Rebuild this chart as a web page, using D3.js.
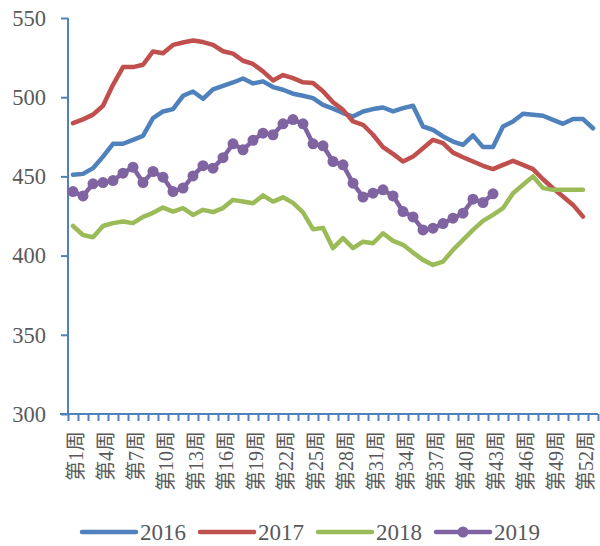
<!DOCTYPE html>
<html>
<head>
<meta charset="utf-8">
<script src="https://cdn.jsdelivr.net/npm/d3@7"></script>
<style>
  body { margin: 0; background: #fff; }
</style>
</head>
<body>
<div class="chart"></div>
<script>
// categories: weeks of the year
var weeks = ['第1周','第2周','第3周','第4周','第5周','第6周','第7周','第8周','第9周','第10周',
  '第11周','第12周','第13周','第14周','第15周','第16周','第17周','第18周','第19周','第20周',
  '第21周','第22周','第23周','第24周','第25周','第26周','第27周','第28周','第29周','第30周',
  '第31周','第32周','第33周','第34周','第35周','第36周','第37周','第38周','第39周','第40周',
  '第41周','第42周','第43周','第44周','第45周','第46周','第47周','第48周','第49周','第50周',
  '第51周','第52周','第53周'];
var weekLabels = ['第1周','第4周','第7周','第10周','第13周','第16周','第19周','第22周','第25周',
  '第28周','第31周','第34周','第37周','第40周','第43周','第46周','第49周','第52周'];
var yTicks = [300, 350, 400, 450, 500, 550];

var v2016 = [451, 451.6, 455.2, 462.5, 470.6, 470.6, 473.1, 475.6, 486.8, 491,
  492.5, 500.9, 503.6, 499, 505, 507.2, 509.3, 511.8, 508.7, 510,
  506.4, 504.7, 502.2, 500.9, 499.4, 495.2, 492.8, 490, 487.8, 491,
  492.5, 493.5, 491, 493.1, 494.6, 481.5, 479.4, 475.2, 472, 469.9,
  475.9, 468.5, 468.5, 481.5, 484.7, 489.5, 488.9, 488.3, 485.7, 483.2,
  486.2, 486.2, 480.4];
var v2017 = [483.6, 486, 489, 494.6, 507.8, 519, 519, 520.5, 528.9, 527.8,
  533, 534.5, 535.8, 534.8, 533, 529, 527.5, 523, 521, 516.3,
  510.6, 514, 512, 509.4, 509, 503.7, 496.8, 492, 484.7, 482.6,
  476.3, 468.5, 464.2, 459.4, 462.5, 467.8, 473.1, 471, 465, 462.1,
  459.4, 456.7, 454.6, 457.3, 459.8, 457.3, 454.6, 448.2, 442.5, 437.3,
  432, 424.6];
var v2018 = [418.7, 413, 411.6, 418.7, 420.5, 421.5, 420.5, 424.4, 427, 430.3,
  427.8, 429.9, 425.7, 428.9, 427.5, 430, 435.2, 434.1, 433, 438,
  434.1, 436.8, 433.3, 427.3, 416.7, 417.5, 404.7, 411, 404.7, 408.8,
  407.8, 414.1, 409.3, 406.8, 401.9, 397.3, 394.1, 396.2, 403.6, 409.9,
  416.2, 421.9, 425.7, 429.9, 439.4, 444.7, 450, 442.6, 441.5, 441.5,
  441.5, 441.5];
var v2019 = [440.4, 437.7, 445.3, 446.1, 447.4, 452, 455.8, 446.1, 453.1, 449.5,
  440.4, 442.6, 450.3, 456.8, 455.2, 461.8, 470.6, 466.8, 472.8, 477.3,
  476.3, 483.2, 485.9, 483.2, 470.6, 469.3, 459.4, 457.3, 445.7, 437,
  439.4, 441.5, 437.7, 427.8, 424.4, 416.2, 417.3, 420.2, 423.6, 426.8,
  435.6, 433.5, 439];

var seriesNames = ['2016', '2017', '2018', '2019'];
var seriesValues = [v2016, v2017, v2018, v2019];
var colors = ['#4F81BD', '#C0504D', '#9BBB59', '#8064A2'];

var fontSerif = '"Liberation Serif", "DejaVu Serif", "Noto Sans CJK SC", serif';
var width = 600, height = 546;
var plot = { left: 68, right: 598, top: 18, bottom: 414 };

var svg = d3.select('.chart')
  .append('svg')
    .attr('width', width)
    .attr('height', height);

var x = d3.scaleBand()
    .domain(weeks)
    .range([plot.left, plot.right]);

var xEdge = d3.scaleLinear()
    .domain([0, weeks.length])
    .range([plot.left, plot.right]);

var y = d3.scaleLinear()
    .domain([300, 550])
    .range([plot.bottom, plot.top]);

// y axis
var yAxis = d3.axisLeft(y)
    .tickValues(yTicks)
    .tickSize(7)
    .tickPadding(15);

var gy = svg.append('g')
    .attr('transform', 'translate(' + plot.left + ',0)')
    .call(yAxis);
gy.select('.domain').attr('stroke', '#4F81BD').attr('stroke-width', 2)
    .attr('d', 'M0,' + plot.top + 'V' + plot.bottom);
gy.selectAll('.tick line').attr('stroke', '#4F81BD').attr('stroke-width', 2);
gy.selectAll('.tick text')
    .attr('fill', '#595959')
    .style('font-family', fontSerif)
    .style('font-size', '22.5px');

// x axis tick marks between categories
var xTicksAxis = d3.axisBottom(xEdge)
    .tickValues(d3.range(0, weeks.length + 1))
    .tickFormat('')
    .tickSize(7);

var gx = svg.append('g')
    .attr('transform', 'translate(0,' + plot.bottom + ')')
    .call(xTicksAxis);
gx.select('.domain').attr('stroke', '#4F81BD').attr('stroke-width', 2)
    .attr('d', 'M' + (plot.left - 8) + ',0H' + plot.right);
gx.selectAll('.tick line').attr('stroke', '#4F81BD').attr('stroke-width', 2);

// x labels, rotated
var xLabelAxis = d3.axisBottom(x)
    .tickValues(weekLabels)
    .tickSize(0)
    .tickPadding(0);

var gxl = svg.append('g')
    .attr('transform', 'translate(0,' + plot.bottom + ')')
    .call(xLabelAxis);
gxl.select('.domain').remove();
gxl.selectAll('.tick text')
    .attr('fill', '#595959')
    .style('font-family', fontSerif)
    .style('font-size', '20px')
    .attr('text-anchor', 'end')
    .attr('dominant-baseline', 'central')
    .attr('dy', null)
    .attr('x', 0)
    .attr('y', 0)
    .attr('transform', 'translate(3,17) rotate(-90)');

// lines
var line = d3.line()
    .x(function(d, i) { return x(weeks[i]) + x.bandwidth() / 2; })
    .y(function(d) { return y(d); });

seriesValues.forEach(function(vals, s) {
  svg.append('path')
    .datum(vals)
    .attr('fill', 'none')
    .attr('stroke', colors[s])
    .attr('stroke-width', 4.5)
    .attr('stroke-linejoin', 'round')
    .attr('stroke-linecap', 'round')
    .attr('d', line);
});

// markers for 2019
svg.selectAll('.dot')
  .data(v2019)
  .enter()
  .append('circle')
    .attr('class', 'dot')
    .attr('cx', function(d, i) { return x(weeks[i]) + x.bandwidth() / 2; })
    .attr('cy', function(d) { return y(d); })
    .attr('r', 5.5)
    .attr('fill', colors[3]);

// legend
var legend = svg.append('g')
    .attr('transform', 'translate(82,532)');

var items = legend.selectAll('.item')
  .data(seriesNames)
  .enter()
  .append('g')
    .attr('class', 'item')
    .attr('transform', function(d, i) { return 'translate(' + (i * 118) + ',0)'; });

items.append('line')
    .attr('x1', 0)
    .attr('x2', 54)
    .attr('y1', 0)
    .attr('y2', 0)
    .attr('stroke', function(d, i) { return colors[i]; })
    .attr('stroke-width', 4.5)
    .attr('stroke-linecap', 'round');

items.filter(function(d, i) { return i === 3; })
  .append('circle')
    .attr('cx', 27)
    .attr('cy', 0)
    .attr('r', 5.5)
    .attr('fill', colors[3]);

items.append('text')
    .attr('x', 58)
    .attr('y', 0)
    .attr('dy', '0.35em')
    .attr('fill', '#595959')
    .style('font-family', fontSerif)
    .style('font-size', '23px')
    .text(function(d) { return d; });
</script>
</body>
</html>
